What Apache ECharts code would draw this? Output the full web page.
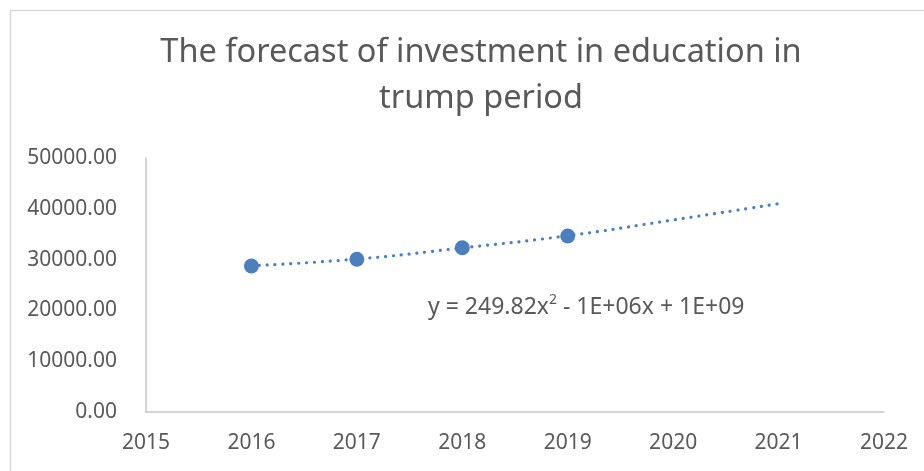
<!DOCTYPE html>
<html>
<head>
<meta charset="utf-8">
<script src="https://cdn.jsdelivr.net/npm/echarts@6/dist/echarts.min.js"></script>
<style>html,body{margin:0;padding:0;background:#fff;}#c{width:924px;height:471px;}</style>
</head>
<body>
<div id="c"></div>
<script>
var years = [2016, 2017, 2018, 2019];
var investment = [28750, 30060, 32340, 34650];
var trendYears = [2016, 2017, 2018, 2019, 2020, 2021];
var trendValues = [28800, 30100, 32300, 34700, 37800, 41000];
var xTicks = [2015, 2016, 2017, 2018, 2019, 2020, 2021, 2022];
var yTicks = [0, 10000, 20000, 30000, 40000, 50000];
var titleText = 'The forecast of investment in education in\ntrump period';

var chart = echarts.init(document.getElementById('c'), null, {renderer: 'canvas'});
var font = '"Noto Sans", sans-serif';
chart.setOption({
  animation: false,
  backgroundColor: '#ffffff',
  title: {
    text: titleText,
    left: 476, top: 25, textAlign: 'center',
    textStyle: {fontFamily: font, fontSize: 32.5, fontWeight: 'normal', color: '#595959', lineHeight: 46}
  },
  grid: {left: 146, right: 40, top: 158, bottom: 59, containLabel: false},
  xAxis: {
    type: 'value', min: xTicks[0], max: xTicks[xTicks.length - 1], interval: 1,
    axisLine: {show: true, lineStyle: {color: '#c8c8c8', width: 1.5}},
    axisTick: {show: false}, splitLine: {show: false},
    axisLabel: {margin: 21, color: '#595959', fontFamily: font, fontSize: 21,
      formatter: function (v) { return String(v); }}
  },
  yAxis: {
    type: 'value', min: yTicks[0], max: yTicks[yTicks.length - 1], interval: 10000,
    axisLine: {show: true, lineStyle: {color: '#c8c8c8', width: 1.5}},
    axisTick: {show: false}, splitLine: {show: false},
    axisLabel: {margin: 29, color: '#595959', fontFamily: font, fontSize: 21,
      formatter: function (v) { return v.toFixed(2); }}
  },
  graphic: [
    {type: 'rect', left: 8, top: 8, shape: {width: 940, height: 490},
      style: {fill: 'none', stroke: '#d9d9d9', lineWidth: 1.5}, silent: true},
    {type: 'text', left: 428, top: 293,
      style: {
        text: '{a|y = 249.82x}{s|2}{a| - 1E+06x + 1E+09}',
        rich: {
          a: {fontFamily: font, fontSize: 23, fill: '#595959', verticalAlign: 'bottom'},
          s: {fontFamily: font, fontSize: 14, fill: '#595959', verticalAlign: 'top', padding: [0, 0, 12, 0]}
        }
      }}
  ],
  series: [
    {
      type: 'line', data: trendYears.map(function (y, i) { return [y, trendValues[i]]; }),
      smooth: true, symbol: 'none',
      lineStyle: {color: '#4e7fbd', width: 3.2, type: [0.1, 7.8], cap: 'round'},
      z: 1
    },
    {
      type: 'scatter', data: years.map(function (y, i) { return [y, investment[i]]; }),
      symbol: 'circle', symbolSize: 15,
      itemStyle: {color: '#4e7fbd', opacity: 1}, z: 2
    }
  ]
});
</script>
</body>
</html>
